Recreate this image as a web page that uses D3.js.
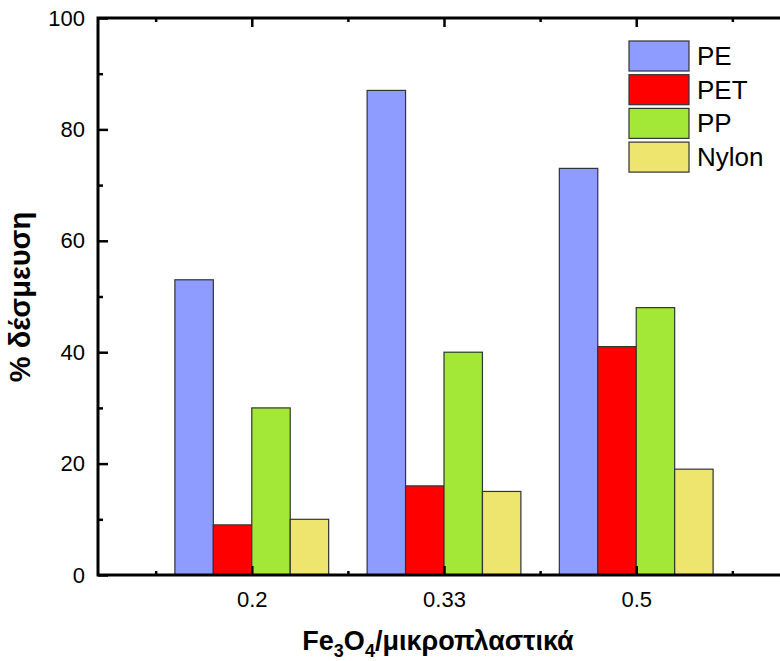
<!DOCTYPE html>
<html><head><meta charset="utf-8">
<script src="https://cdn.jsdelivr.net/npm/d3@7"></script>
<style>body{margin:0;background:#fff}svg{display:block}text{font-family:"Liberation Sans",Arial,sans-serif}</style>
</head><body>
<svg id="c" width="780" height="661"></svg>
<script>
const categories = ["0.2", "0.33", "0.5"];
const seriesNames = ["PE", "PET", "PP", "Nylon"];
const PE = [53, 87, 73];
const PET = [9, 16, 41];
const PP = [30, 40, 48];
const Nylon = [10, 15, 19];
const yTicks = [0, 20, 40, 60, 80, 100];
const colors = ["#8f9cff", "#ff0000", "#a3e836", "#ede56e"];
const values = [PE, PET, PP, Nylon];

const svg = d3.select("#c");
const L = 98, R = 790, T = 18, B = 575;
const x = d3.scaleLinear().domain([0.2, 3.8]).range([L, R]);
const y = d3.scaleLinear().domain([0, 100]).range([B, T]);
const groupW = 0.8, barW = groupW / 4;

seriesNames.forEach((s, si) => {
  svg.append("g").selectAll("rect").data(values[si]).join("rect")
    .attr("x", (d, i) => x(i + 1 - groupW / 2 + si * barW))
    .attr("width", x(barW) - x(0))
    .attr("y", d => y(d))
    .attr("height", d => y(0) - y(d))
    .attr("fill", colors[si])
    .attr("stroke", "#333").attr("stroke-width", 1.2);
});

const major = [1, 2, 3], minor = [0.5, 1.5, 2.5, 3.5];
const bottom = svg.append("g").attr("transform", `translate(0,${B})`)
  .call(d3.axisBottom(x).tickValues(major).tickFormat((d) => categories[d - 1]).tickSize(-9).tickPadding(16));
bottom.selectAll(".tick text").attr("font-size", 22).attr("fill", "#000");
svg.append("g").attr("transform", `translate(0,${B})`)
  .call(d3.axisBottom(x).tickValues(minor).tickFormat("").tickSize(-4));
svg.append("g").attr("transform", `translate(0,${T})`)
  .call(d3.axisTop(x).tickValues(major).tickFormat("").tickSize(-9));
svg.append("g").attr("transform", `translate(0,${T})`)
  .call(d3.axisTop(x).tickValues(minor).tickFormat("").tickSize(-4));

const left = svg.append("g").attr("transform", `translate(${L},0)`)
  .call(d3.axisLeft(y).tickValues(yTicks).tickSize(-10).tickPadding(13));
left.selectAll(".tick text").attr("font-size", 22).attr("fill", "#000");
const yMinor = d3.range(10, 100, 20);
svg.append("g").attr("transform", `translate(${L},0)`)
  .call(d3.axisLeft(y).tickValues(yMinor).tickFormat("").tickSize(-5));
svg.append("g").attr("transform", `translate(${R},0)`)
  .call(d3.axisRight(y).tickValues(yTicks).tickFormat("").tickSize(-10));
svg.append("g").attr("transform", `translate(${R},0)`)
  .call(d3.axisRight(y).tickValues(yMinor).tickFormat("").tickSize(-5));

svg.selectAll(".domain").remove();
svg.selectAll(".tick line").attr("stroke", "#000").attr("stroke-width", 2.5);
svg.append("rect").attr("x", L).attr("y", T).attr("width", R - L).attr("height", B - T)
  .attr("fill", "none").attr("stroke", "#000").attr("stroke-width", 3);

const lg = svg.append("g").attr("transform", "translate(629,41)");
seriesNames.forEach((s, i) => {
  lg.append("rect").attr("x", 0).attr("y", i * 33.7).attr("width", 60).attr("height", 30)
    .attr("fill", colors[i]).attr("stroke", "#333").attr("stroke-width", 1.2);
  lg.append("text").attr("x", 68).attr("y", i * 33.7 + 24).attr("font-size", 26).text(s);
});

svg.append("text").attr("transform", "translate(30,297) rotate(-90)")
  .attr("text-anchor", "middle").attr("font-size", 29).attr("font-weight", "bold").text("% δέσμευση");
const xt = svg.append("text").attr("x", 438).attr("y", 650).attr("text-anchor", "middle")
  .attr("font-size", 27).attr("font-weight", "bold");
xt.append("tspan").text("Fe");
xt.append("tspan").attr("font-size", 18).attr("dy", 7).text("3");
xt.append("tspan").attr("dy", -7).text("O");
xt.append("tspan").attr("font-size", 18).attr("dy", 7).text("4");
xt.append("tspan").attr("dy", -7).text("/μικροπλαστικά");
</script>
</body></html>
